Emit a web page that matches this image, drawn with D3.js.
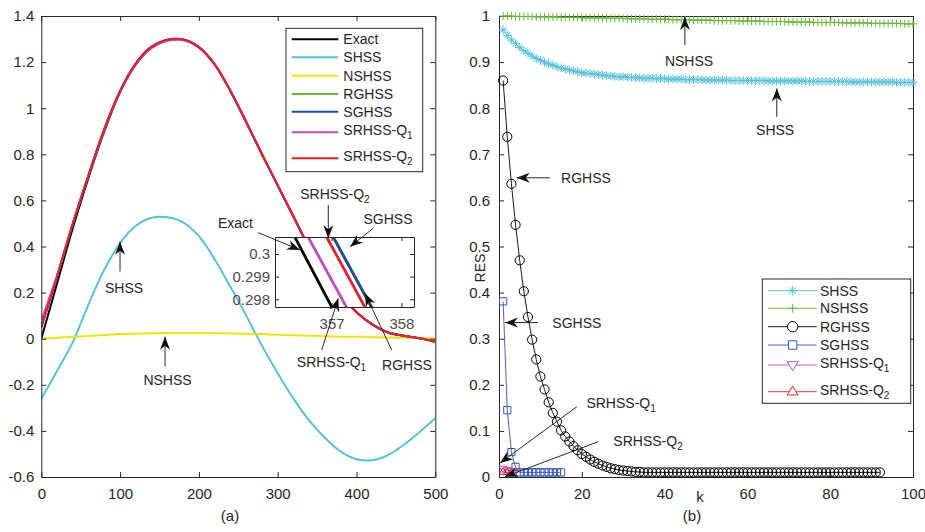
<!DOCTYPE html>
<html>
<head>
<meta charset="utf-8">
<script src="https://cdn.jsdelivr.net/npm/d3@7"></script>
<style>
body { margin: 0; background: #fff; }
text { font-family: "Liberation Sans", Arial, sans-serif; }
</style>
</head>
<body>
<svg width="925" height="532"></svg>
<script>
// ---- data, panel (a) ----
var tGrid = [0,20,40,60,80,100,120,140,160,180,200,220,240,260,280,300,320,340,360,380,400,420,440,460,480,500];
var exactY = [0.00,0.24,0.48,0.70,0.90,1.07,1.19,1.262,1.295,1.298,1.265,1.19,1.075,0.94,0.80,0.665,0.53,0.395,0.28,0.19,0.115,0.062,0.027,0.013,0.002,-0.013];
var q2Y    = [0.05,0.27,0.50,0.71,0.91,1.075,1.195,1.267,1.297,1.298,1.265,1.19,1.075,0.94,0.80,0.665,0.53,0.395,0.28,0.19,0.115,0.062,0.027,0.013,0.002,-0.013];
var q1Y    = [0.08,0.275,0.50,0.71,0.905,1.072,1.192,1.262,1.292,1.295,1.263,1.19,1.075,0.94,0.80,0.665,0.53,0.395,0.28,0.19,0.115,0.062,0.027,0.013,0.002,-0.013];
var rghssY = q2Y;
var sghssY = q2Y;
var shssY  = [-0.26,-0.14,-0.015,0.15,0.30,0.415,0.49,0.525,0.527,0.505,0.445,0.345,0.225,0.10,-0.03,-0.15,-0.26,-0.355,-0.43,-0.49,-0.523,-0.527,-0.505,-0.46,-0.405,-0.345];
var nshssY = [0.0,0.004,0.008,0.012,0.016,0.020,0.022,0.024,0.025,0.025,0.025,0.024,0.023,0.022,0.020,0.017,0.015,0.013,0.011,0.009,0.008,0.006,0.005,0.004,0.003,0.002];

// zoomed window (inset), two read points per line
var insetExact = [[356.43,0.3010],[357.03,0.2975]];
var insetQ1    = [[356.62,0.3010],[357.24,0.2975]];
var insetQ2    = [[356.885,0.3010],[357.504,0.2975]];
var insetSG    = [[356.979,0.3010],[357.599,0.2975]];
var insetRG    = insetSG;

// ---- data, panel (b): RES against k ----
var resSHSS = [0.970,0.958,0.948,0.940,0.932,0.925,0.919,0.913,0.908,0.904,
               0.900,0.896,0.893,0.890,0.887,0.885,0.883,0.881,0.879,0.877,
               0.876,0.875,0.874,0.873,0.872,0.871,0.870,0.869,0.868,0.868,
               0.867,0.867,0.866,0.866,0.865,0.865,0.865,0.864,0.864,0.864,
               0.863,0.863,0.863,0.863,0.862,0.862,0.862,0.862,0.862,0.861,
               0.861,0.861,0.861,0.861,0.861,0.860,0.860,0.860,0.860,0.860,
               0.860,0.860,0.860,0.860,0.859,0.859,0.859,0.859,0.859,0.859,
               0.859,0.859,0.859,0.858,0.858,0.858,0.858,0.858,0.858,0.858,
               0.858,0.858,0.858,0.858,0.857,0.857,0.857,0.857,0.857,0.857,
               0.857,0.857,0.857,0.857,0.857,0.856,0.856,0.856,0.856,0.856];
var resNSHSS = [1.000,1.000,1.000,0.999,0.999,0.999,0.999,0.999,0.998,0.998,
                0.998,0.998,0.998,0.998,0.997,0.997,0.997,0.997,0.997,0.996,
                0.996,0.996,0.996,0.996,0.996,0.995,0.995,0.995,0.995,0.995,
                0.994,0.994,0.994,0.994,0.994,0.993,0.993,0.993,0.993,0.993,
                0.993,0.992,0.992,0.992,0.992,0.992,0.991,0.991,0.991,0.991,
                0.991,0.990,0.990,0.990,0.990,0.990,0.990,0.989,0.989,0.989,
                0.989,0.989,0.989,0.988,0.988,0.988,0.988,0.988,0.988,0.987,
                0.987,0.987,0.987,0.987,0.987,0.986,0.986,0.986,0.986,0.986,
                0.986,0.986,0.985,0.985,0.985,0.985,0.985,0.985,0.985,0.984,
                0.984,0.984,0.984,0.984,0.984,0.984,0.984,0.983,0.983,0.983];
var resRGHSS = [0.860,0.738,0.636,0.547,0.470,0.403,0.347,0.298,0.255,0.218,
                0.190,0.162,0.139,0.120,0.101,0.088,0.077,0.067,0.058,0.050,
                0.044,0.038,0.033,0.029,0.025,0.022,0.019,0.017,0.015,0.014,
                0.013,0.012,0.011,0.011,0.010,0.010,0.010,0.010,0.010,0.010,
                0.010,0.010,0.010,0.010,0.010,0.010,0.010,0.010,0.010,0.010,
                0.010,0.010,0.010,0.010,0.010,0.010,0.010,0.010,0.010,0.010,
                0.010,0.010,0.010,0.010,0.010,0.010,0.010,0.010,0.010,0.010,
                0.010,0.010,0.010,0.010,0.010,0.010,0.010,0.010,0.010,0.010,
                0.010,0.010,0.010,0.010,0.010,0.010,0.010,0.010,0.010,0.010,
                0.010,0.010];
var resSGHSS = [0.381,0.145,0.054,0.022,0.010,0.010,0.010,0.010,0.010,0.010,0.010,0.010,0.010,0.010,0.010];
var resQ1 = [0.018,0.015,0.013,0.012];
var resQ2 = [0.011,0.010,0.009];

var tickA_x = [0,100,200,300,400,500];
var tickA_y = [-0.6,-0.4,-0.2,0,0.2,0.4,0.6,0.8,1,1.2,1.4];
var tickIn_x = [357,358];
var tickIn_y = [0.298,0.299,0.3];
var tickB_x = [0,20,40,60,80,100];
var tickB_y = [0,0.1,0.2,0.3,0.4,0.5,0.6,0.7,0.8,0.9,1];

// annotations: text position, arrow tail, arrow tip (data units)
var notesA = [
  {t:"SHSS", at:[105,0.219], from:[99.9,0.291], to:[99.9,0.421]},
  {t:"NSHSS", at:[160.2,-0.179], from:[157,-0.121], to:[157,0.009]},
  {t:"Exact", at:[246.4,0.502], from:[275.4,0.46], to:[328.3,0.385]},
  {t:"SRHSS-Q2", at:[372.7,0.628], from:[364.2,0.58], to:[364.2,0.436]},
  {t:"SGHSS", at:[440,0.518], from:[421.3,0.479], to:[391.7,0.399]},
  {t:"SRHSS-Q1", at:[368.3,-0.10], from:[355.8,-0.049], to:[376.9,0.175]},
  {t:"RGHSS", at:[464,-0.114], from:[444.7,-0.049], to:[410.8,0.197]}
];
var notesB = [
  {t:"NSHSS", at:[45.9,0.902], from:[44.9,0.937], to:[44.9,0.998]},
  {t:"SHSS", at:[66.7,0.753], from:[67.1,0.781], to:[67.1,0.843]},
  {t:"RGHSS", at:[21.0,0.649], from:[12.3,0.649], to:[4.28,0.649]},
  {t:"SGHSS", at:[18.8,0.335], from:[9.42,0.335], to:[1.45,0.335]},
  {t:"SRHSS-Q1", at:[29.5,0.1605], from:[18.8,0.1525], to:[0.24,0.0304]},
  {t:"SRHSS-Q2", at:[36,0.0787], from:[24,0.0766], to:[1.45,0.0007]}
];

var axisCol = "#262626";
var col = {exact:"#000000", shss:"#56c3da", nshss:"#f2e600", rghss:"#66bb33",
           sghss:"#1f4ea0", q1:"#c04dbb", q2:"#ee1c25"};

var svg = d3.select("svg");
svg.append("rect").attr("width",925).attr("height",532).attr("fill","#fff");

var defs = svg.append("defs");
defs.append("marker").attr("id","ah").attr("viewBox","-14 -6 15 12")
  .attr("refX",0).attr("refY",0).attr("markerWidth",15).attr("markerHeight",12)
  .attr("markerUnits","userSpaceOnUse").attr("orient","auto")
  .append("path").attr("d","M0,0L-13,-5L-9,0L-13,5Z").attr("fill","#111");

// scales
var xA = d3.scaleLinear().domain([0,500]).range([41.3,435.3]);
var yA = d3.scaleLinear().domain([-0.6,1.4]).range([477,16]);
var xB = d3.scaleLinear().domain([0,100]).range([499,913]);
var yB = d3.scaleLinear().domain([0,1]).range([477,16]);
var xI = d3.scaleLinear().domain([356.19,358.18]).range([275,414]);
var yI = d3.scaleLinear().domain([0.29766,0.30075]).range([307,237]);

function label(sel, s) {
  var m = s.match(/^(.*-Q)(\d)$/);
  if (m) {
    sel.text(m[1]);
    sel.append("tspan").attr("dy",5).attr("font-size","0.72em").text(m[2]);
  } else sel.text(s);
}

function styleAxis(g, fs) {
  g.attr("font-family",null).attr("font-size",fs);
  g.selectAll("path.domain").attr("stroke",axisCol);
  g.selectAll(".tick line").attr("stroke",axisCol);
  g.selectAll(".tick text").attr("fill",axisCol);
}

function drawAxes(g, x, y, xt, yt, padY, tl, fs) {
  var x0 = x.range()[0], x1 = x.range()[1], y0 = y.range()[0], y1 = y.range()[1];
  g.append("g").attr("transform","translate(0,"+y0+")")
    .call(d3.axisBottom(x).tickValues(xt).tickSize(-tl).tickSizeOuter(0).tickPadding(11).tickFormat(d => String(d)))
    .call(styleAxis, fs);
  g.append("g").attr("transform","translate(0,"+y1+")")
    .call(d3.axisTop(x).tickValues(xt).tickSize(-tl).tickSizeOuter(0).tickFormat(""))
    .call(styleAxis, fs);
  g.append("g").attr("transform","translate("+x0+",0)")
    .call(d3.axisLeft(y).tickValues(yt).tickSize(-tl).tickSizeOuter(0).tickPadding(padY).tickFormat(d => String(d)))
    .call(styleAxis, fs);
  g.append("g").attr("transform","translate("+x1+",0)")
    .call(d3.axisRight(y).tickValues(yt).tickSize(-tl).tickSizeOuter(0).tickFormat(""))
    .call(styleAxis, fs);
}

function drawNotes(g, notes, x, y) {
  notes.forEach(function(n) {
    g.append("line")
      .attr("x1",x(n.from[0])).attr("y1",y(n.from[1]))
      .attr("x2",x(n.to[0])).attr("y2",y(n.to[1]))
      .attr("stroke","#111").attr("stroke-width",0.9)
      .attr("marker-end","url(#ah)");
    g.append("text").attr("x",x(n.at[0])).attr("y",y(n.at[1]))
      .attr("text-anchor","middle").attr("dominant-baseline","central")
      .attr("font-size",14).attr("fill","#262626")
      .call(label, n.t);
  });
}

// ================= panel (a) =================
var gA = svg.append("g");
defs.append("clipPath").attr("id","clipA").append("rect")
  .attr("x",xA.range()[0]).attr("y",yA.range()[1])
  .attr("width",xA.range()[1]-xA.range()[0]).attr("height",yA.range()[0]-yA.range()[1]);

var lineA = d3.line().x((d,i) => xA(tGrid[i])).y(d => yA(d)).curve(d3.curveCatmullRom.alpha(0.5));
var seriesA = [
  {v:exactY, c:col.exact, w:2},
  {v:shssY, c:col.shss, w:2},
  {v:nshssY, c:col.nshss, w:2},
  {v:rghssY, c:col.rghss, w:2},
  {v:sghssY, c:col.sghss, w:2},
  {v:q1Y, c:col.q1, w:2},
  {v:q2Y, c:col.q2, w:2}
];
var curvesA = gA.append("g").attr("clip-path","url(#clipA)");
seriesA.forEach(function(s) {
  curvesA.append("path").datum(s.v).attr("fill","none")
    .attr("stroke",s.c).attr("stroke-width",s.w).attr("stroke-linejoin","round")
    .attr("d",lineA);
});
drawAxes(gA, xA, yA, tickA_x, tickA_y, 7, 5, 15);

// legend (a)
var legA = [
  {t:"Exact", c:col.exact, y:39.3},
  {t:"SHSS", c:col.shss, y:57.3},
  {t:"NSHSS", c:col.nshss, y:75.7},
  {t:"RGHSS", c:col.rghss, y:94},
  {t:"SGHSS", c:col.sghss, y:111.7},
  {t:"SRHSS-Q1", c:col.q1, y:132.3},
  {t:"SRHSS-Q2", c:col.q2, y:158.3}
];
var lgA = gA.append("g");
lgA.append("rect").attr("x",286).attr("y",28.3).attr("width",136.7).attr("height",143.4)
  .attr("fill","#fff").attr("stroke",axisCol).attr("stroke-width",1);
legA.forEach(function(d) {
  lgA.append("line").attr("x1",291.7).attr("x2",338.3).attr("y1",d.y).attr("y2",d.y)
    .attr("stroke",d.c).attr("stroke-width",2);
  lgA.append("text").attr("x",343.3).attr("y",d.y - (d.t.indexOf("-Q")>0 ? 2 : 0))
    .attr("dominant-baseline","central").attr("font-size",14).attr("fill","#262626")
    .call(label, d.t);
});

// inset
var gI = gA.append("g");
gI.append("rect").attr("x",275).attr("y",237).attr("width",139).attr("height",70)
  .attr("fill","#fff");
defs.append("clipPath").attr("id","clipI").append("rect")
  .attr("x",275).attr("y",237).attr("width",139).attr("height",70);
var lineI = d3.line().x(d => xI(d[0])).y(d => yI(d[1]));
var insetLines = gI.append("g").attr("clip-path","url(#clipI)");
[[insetExact,col.exact],[insetRG,col.rghss],[insetSG,col.sghss],[insetQ1,col.q1],[insetQ2,col.q2]]
  .forEach(function(p) {
    insetLines.append("path").datum(p[0]).attr("fill","none")
      .attr("stroke",p[1]).attr("stroke-width",2.8).attr("d",lineI);
  });
drawAxes(gI, xI, yI, tickIn_x, tickIn_y, 5, 4, 15);
gI.selectAll(".tick text").attr("fill","#4d4d4d");

drawNotes(gA, notesA, xA, yA);
gA.append("text").attr("x",230).attr("y",521).attr("text-anchor","middle")
  .attr("font-size",15).attr("fill","#262626").text("(a)");

// ================= panel (b) =================
var gB = svg.append("g");
drawAxes(gB, xB, yB, tickB_x, tickB_y, 9, 5, 15);

var shapes = {
  star: function(r){ var a=r*0.7; return "M0,"+(-r)+"V"+r+"M"+(-r)+",0H"+r+"M"+(-a)+","+(-a)+"L"+a+","+a+"M"+(-a)+","+a+"L"+a+","+(-a); },
  plus: function(r){ return "M0,"+(-r)+"V"+r+"M"+(-r)+",0H"+r; },
  circle: function(r){ return "M"+r+",0A"+r+","+r+" 0 1,1 "+(-r)+",0A"+r+","+r+" 0 1,1 "+r+",0Z"; },
  square: function(r){ return "M"+(-r)+","+(-r)+"H"+r+"V"+r+"H"+(-r)+"Z"; },
  triDown: function(r){ return "M"+(-r)+","+(-r*0.6)+"H"+r+"L0,"+r+"Z"; },
  triUp: function(r){ return "M"+(-r)+","+(r*0.6)+"H"+r+"L0,"+(-r)+"Z"; }
};

var seriesB = [
  {t:"SHSS", v:resSHSS, c:col.shss, m:"star", r:4.3, lw:1},
  {t:"NSHSS", v:resNSHSS, c:col.rghss, m:"plus", r:4, lw:1},
  {t:"RGHSS", v:resRGHSS, c:"#000", m:"circle", r:4.6, lw:0.9},
  {t:"SGHSS", v:resSGHSS, c:"#2f55c0", m:"square", r:3.6, lw:0.9},
  {t:"SRHSS-Q1", v:resQ1, c:col.q1, m:"triDown", r:4, lw:0.9},
  {t:"SRHSS-Q2", v:resQ2, c:col.q2, m:"triUp", r:4, lw:0.9}
];
var lineB = d3.line().x((d,i) => xB(i+1)).y(d => yB(d));
seriesB.forEach(function(s) {
  var g = gB.append("g");
  g.append("path").datum(s.v).attr("fill","none").attr("stroke",s.c)
    .attr("stroke-width",s.lw).attr("d",lineB);
  g.selectAll("path.mk").data(s.v).join("path").attr("class","mk")
    .attr("transform",(d,i) => "translate("+xB(i+1)+","+yB(d)+")")
    .attr("d",shapes[s.m](s.r)).attr("fill","none").attr("stroke",s.c).attr("stroke-width",1);
});

// legend (b)
var legRowsB = [290.7,308.3,326.7,345,365,391.7];
var lgB = gB.append("g");
lgB.append("rect").attr("x",762.3).attr("y",279).attr("width",148.4).attr("height",124.3)
  .attr("fill","#fff").attr("stroke",axisCol).attr("stroke-width",1);
seriesB.forEach(function(s, i) {
  var y = legRowsB[i];
  lgB.append("line").attr("x1",768).attr("x2",816.7).attr("y1",y).attr("y2",y)
    .attr("stroke",s.c).attr("stroke-width",s.lw);
  var r = s.m.indexOf("tri") === 0 ? 5.5 : s.r + 0.6;
  lgB.append("path").attr("transform","translate(792.7,"+y+")")
    .attr("d",shapes[s.m](r)).attr("fill","#fff").attr("stroke",s.c).attr("stroke-width",1);
  lgB.append("text").attr("x",820).attr("y",y - (s.t.indexOf("-Q")>0 ? 2 : 0))
    .attr("dominant-baseline","central").attr("font-size",14).attr("fill","#262626")
    .call(label, s.t);
});

drawNotes(gB, notesB, xB, yB);

gB.append("text").attr("transform","translate(480,268) rotate(-90)")
  .attr("text-anchor","middle").attr("dominant-baseline","central")
  .attr("font-size",14).attr("fill","#262626").text("RES");
gB.append("text").attr("x",700).attr("y",496).attr("text-anchor","middle")
  .attr("dominant-baseline","central").attr("font-size",15).attr("fill","#262626").text("k");
gB.append("text").attr("x",692).attr("y",521).attr("text-anchor","middle")
  .attr("font-size",15).attr("fill","#262626").text("(b)");
</script>
</body>
</html>
